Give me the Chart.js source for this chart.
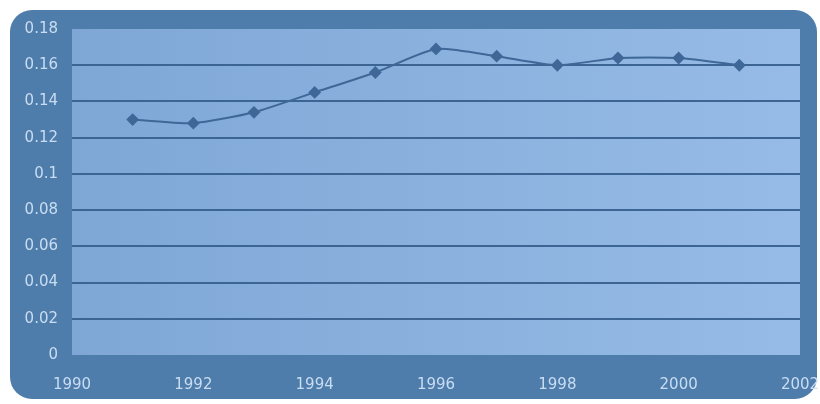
<!DOCTYPE html>
<html>
<head>
<meta charset="utf-8">
<script src="https://cdn.jsdelivr.net/npm/chart.js@4/dist/chart.umd.min.js"></script>
<style>
  html, body { margin: 0; padding: 0; background: #ffffff; }
  #wrap { width: 820px; height: 404px; }
</style>
</head>
<body>
<div id="wrap"><canvas id="chart-line"></canvas></div>
<script>
var years = [1991, 1992, 1993, 1994, 1995, 1996, 1997, 1998, 1999, 2000, 2001];
var values = [0.130, 0.128, 0.134, 0.145, 0.156, 0.169, 0.165, 0.160, 0.164, 0.164, 0.160];
var xRange = [1990, 2002];
var yRange = [0, 0.18];

// rounded dark frame + light plot area behind everything
var framePlugin = {
  id: "frame",
  beforeDraw: function (chart) {
    var ctx = chart.ctx;
    var a = chart.chartArea;
    ctx.save();
    ctx.fillStyle = "#4e7dac";
    ctx.beginPath();
    ctx.roundRect(10, 10, 807, 389, 22);
    ctx.fill();
    var g = ctx.createLinearGradient(a.left, 0, a.right, 0);
    g.addColorStop(0, "#7fa7d6");
    g.addColorStop(1, "#96bbe6");
    ctx.fillStyle = g;
    ctx.fillRect(a.left, a.top, a.right - a.left, a.bottom - a.top);
    ctx.restore();
  }
};

new Chart(document.getElementById("chart-line"), {
  type: "line",
  data: {
    datasets: [{
      data: years.map(function (y, i) { return { x: y, y: values[i] }; }),
      borderColor: "#3f6797",
      backgroundColor: "#3f6797",
      borderWidth: 2,
      pointStyle: "rectRot",
      pointRadius: 5,
      tension: 0.2
    }]
  },
  options: {
    responsive: true,
    maintainAspectRatio: false,
    animation: false,
    layout: { padding: { left: 10, right: 20, top: 29, bottom: 9 } },
    plugins: { legend: { display: false }, tooltip: { enabled: false } },
    scales: {
      x: {
        type: "linear",
        min: xRange[0],
        max: xRange[1],
        ticks: {
          stepSize: 2,
          color: "#c9ddf2",
          font: { family: "DejaVu Sans", size: 15 },
          padding: 13,
          callback: function (v) { return String(v); }
        },
        grid: { display: false },
        border: { display: false },
        afterFit: function (s) { s.height = 40; s.paddingLeft = 0; s.paddingRight = 0; }
      },
      y: {
        min: yRange[0],
        max: yRange[1],
        ticks: {
          stepSize: 0.02,
          color: "#c9ddf2",
          font: { family: "DejaVu Sans", size: 15 },
          padding: 14,
          callback: function (v) { return String(Number(v.toFixed(2))); }
        },
        grid: {
          drawTicks: false,
          lineWidth: 2,
          color: function (c) {
            var v = c.tick ? c.tick.value : 0;
            return (v <= 0.001 || v >= 0.179) ? "rgba(0,0,0,0)" : "#3d6594";
          }
        },
        border: { display: false },
        afterFit: function (s) { s.width = 62; s.paddingTop = 0; s.paddingBottom = 0; }
      }
    }
  },
  plugins: [framePlugin]
});
</script>
</body>
</html>
